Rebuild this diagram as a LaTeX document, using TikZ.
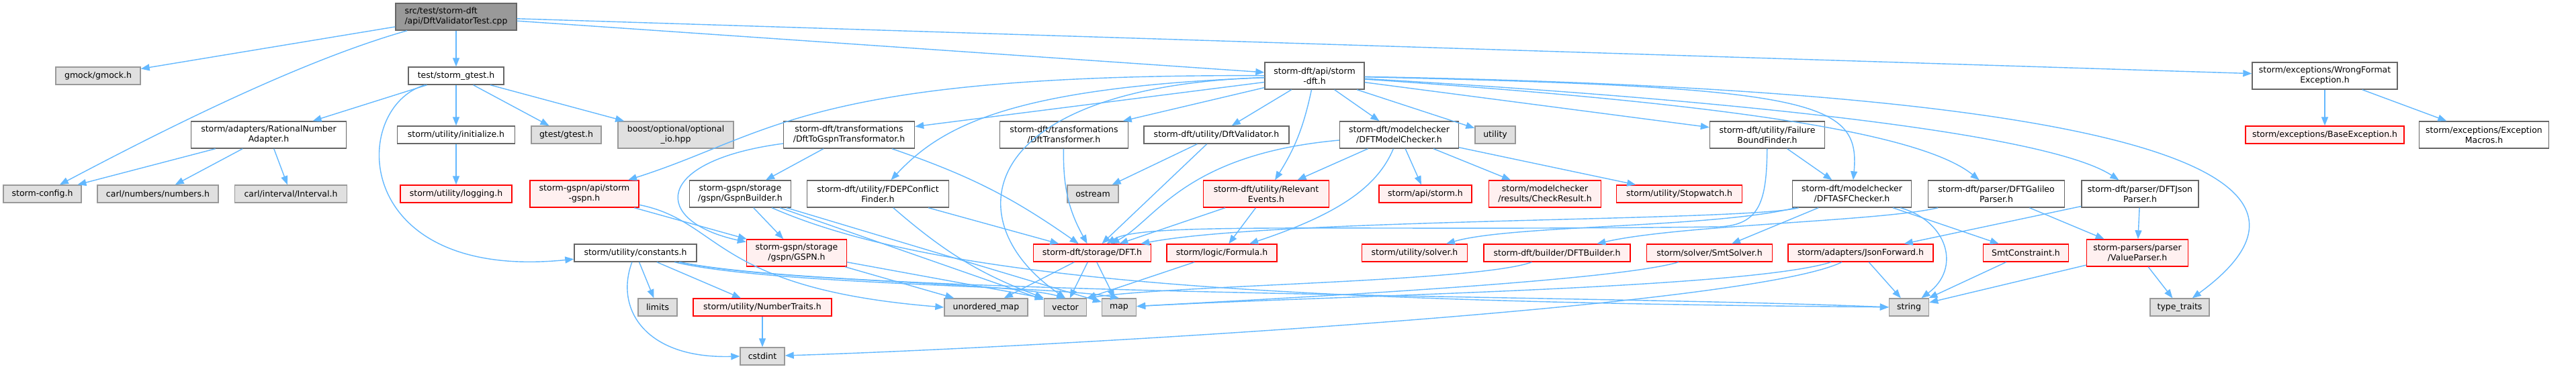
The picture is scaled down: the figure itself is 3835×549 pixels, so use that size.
\documentclass[tikz,border=0pt]{standalone}
\usepackage{fontspec}
\setmainfont{DejaVu Sans}
\usepackage{xcolor}
\usetikzlibrary{arrows.meta}

\definecolor{edgeblue}{HTML}{63B8FF}
\definecolor{grey40}{HTML}{666666}
\definecolor{grey60}{HTML}{999999}
\definecolor{sysfill}{HTML}{E0E0E0}
\definecolor{trfill}{HTML}{FFF0F0}
\definecolor{trline}{HTML}{FF0000}

\begin{document}
\begin{tikzpicture}[
  x=1pt, y=-1pt,
  cbox/.style = {draw=grey40, fill=grey60, line width=1.4pt,
                 minimum height=26pt, inner xsep=2pt, inner ysep=2pt,
                 font=\fontsize{12.5}{15}\selectfont, align=left},
  wbox/.style = {draw=grey40, fill=white, line width=1.4pt,
                 minimum height=26pt, inner xsep=2pt, inner ysep=2pt,
                 font=\fontsize{12.5}{15}\selectfont, align=center},
  gbox/.style = {draw=grey60, fill=sysfill, line width=1.4pt,
                 minimum height=26pt, inner xsep=2pt, inner ysep=2pt,
                 font=\fontsize{12.5}{15}\selectfont, align=center},
  rbox/.style = {draw=trline, fill=trfill, line width=1.4pt,
                 minimum height=26pt, inner xsep=2pt, inner ysep=2pt,
                 font=\fontsize{12.5}{15}\selectfont, align=center},
  dbl/.style  = {minimum height=40pt},
  arr/.style  = {-{Triangle[length=13pt, width=10pt]}, color=edgeblue,
                 line width=1.4pt},
]
\useasboundingbox (0,0) rectangle (3835,549);

% Row 1 - the test file
\node[cbox, dbl, minimum width=180pt] (test) at (679,25) {src/test/storm-dft\\/api/DftValidatorTest.cpp};

% Row 2
\node[gbox, minimum width=126pt] (gmock)  at (146,113) {gmock/gmock.h};
\node[wbox, minimum width=142pt] (gtesth) at (679,113) {test/storm\_gtest.h};
\node[wbox, dbl, minimum width=148pt] (stormdft) at (1957,113) {storm-dft/api/storm\\-dft.h};
\node[wbox, dbl, minimum width=216pt] (wrongfmt) at (3461,113) {storm/exceptions/WrongFormat\\Exception.h};

% Row 3
\node[wbox, dbl, minimum width=231pt] (ratadapt) at (400,201) {storm/adapters/RationalNumber\\Adapter.h};
\node[wbox, minimum width=175pt] (init)     at (679,201)  {storm/utility/initialize.h};
\node[gbox, minimum width=104pt] (gtestlib) at (843,201)  {gtest/gtest.h};
\node[gbox, dbl, minimum width=172pt] (boostopt) at (1006,201) {boost/optional/optional\\\_io.hpp};
\node[wbox, dbl, minimum width=195pt] (dft2gspn) at (1264,201) {storm-dft/transformations\\/DftToGspnTransformator.h};
\node[wbox, dbl, minimum width=191pt] (dfttrans) at (1584,201) {storm-dft/transformations\\/DftTransformer.h};
\node[wbox, minimum width=216pt] (dftvalid) at (1811,201) {storm-dft/utility/DftValidator.h};
\node[wbox, dbl, minimum width=177pt] (dftmc)    at (2083,201) {storm-dft/modelchecker\\/DFTModelChecker.h};
\node[gbox, minimum width=60pt]  (utility)  at (2226,201) {utility};
\node[wbox, dbl, minimum width=171pt] (failbound) at (2631,201) {storm-dft/utility/Failure\\BoundFinder.h};
\node[rbox, minimum width=236pt] (baseexc)  at (3461,201) {storm/exceptions/BaseException.h};
\node[wbox, dbl, minimum width=193pt] (excmacros) at (3698,201) {storm/exceptions/Exception\\Macros.h};

% Row 4
\node[gbox, minimum width=116pt] (config)   at (63,289)   {storm-config.h};
\node[gbox, minimum width=180pt] (carlnum)  at (235,289)  {carl/numbers/numbers.h};
\node[gbox, minimum width=167pt] (carlint)  at (433,289)  {carl/interval/Interval.h};
\node[rbox, minimum width=166pt] (logging)  at (679,289)  {storm/utility/logging.h};
\node[rbox, dbl, minimum width=162pt] (gspnapi)  at (870,289)  {storm-gspn/api/storm\\-gspn.h};
\node[wbox, dbl, minimum width=151pt] (gspnbld)  at (1102,289) {storm-gspn/storage\\/gspn/GspnBuilder.h};
\node[wbox, dbl, minimum width=211pt] (fdep)     at (1307,289) {storm-dft/utility/FDEPConflict\\Finder.h};
\node[gbox, minimum width=76pt]  (ostream)  at (1627,289) {ostream};
\node[rbox, dbl, minimum width=187pt] (relevant) at (1885,289) {storm-dft/utility/Relevant\\Events.h};
\node[rbox, minimum width=138pt] (stormapi) at (2122,289) {storm/api/storm.h};
\node[rbox, dbl, minimum width=167pt] (checkres) at (2300,289) {storm/modelchecker\\/results/CheckResult.h};
\node[rbox, minimum width=187pt] (stopwatch) at (2500,289) {storm/utility/Stopwatch.h};
\node[wbox, dbl, minimum width=177pt] (asfcheck) at (2757,289) {storm-dft/modelchecker\\/DFTASFChecker.h};
\node[wbox, dbl, minimum width=203pt] (galileo)  at (2972,289) {storm-dft/parser/DFTGalileo\\Parser.h};
\node[wbox, dbl, minimum width=174pt] (jsonparse) at (3186,289) {storm-dft/parser/DFTJson\\Parser.h};

% Row 5
\node[wbox, minimum width=182pt] (constants) at (946,377)  {storm/utility/constants.h};
\node[rbox, dbl, minimum width=149pt] (gspn)     at (1186,377) {storm-gspn/storage\\/gspn/GSPN.h};
\node[rbox, minimum width=175pt] (dft)       at (1626,377) {storm-dft/storage/DFT.h};
\node[rbox, minimum width=164pt] (formula)   at (1819,377) {storm/logic/Formula.h};
\node[rbox, minimum width=157pt] (solver)    at (2106,377) {storm/utility/solver.h};
\node[rbox, minimum width=218pt] (dftbld)    at (2318,377) {storm-dft/builder/DFTBuilder.h};
\node[rbox, minimum width=187pt] (smtsolver) at (2545,377) {storm/solver/SmtSolver.h};
\node[rbox, minimum width=216pt] (jsonfwd)   at (2770,377) {storm/adapters/JsonForward.h};
\node[rbox, minimum width=127pt] (smtconstr) at (3016,377) {SmtConstraint.h};
\node[rbox, dbl, minimum width=151pt] (valparse) at (3182,377) {storm-parsers/parser\\/ValueParser.h};

% Row 6
\node[gbox, minimum width=58pt]  (limits)    at (979,458)  {limits};
\node[rbox, minimum width=206pt] (numtraits) at (1135,458) {storm/utility/NumberTraits.h};
\node[gbox, minimum width=124pt] (umap)      at (1468,458) {unordered\_map};
\node[gbox, minimum width=63pt]  (vector)    at (1586,458) {vector};
\node[gbox, minimum width=51pt]  (map)       at (1666,458) {map};
\node[gbox, minimum width=59pt]  (string)    at (2842,458) {string};
\node[gbox, minimum width=88pt]  (typetr)    at (3245,458) {type\_traits};

% Row 7
\node[gbox, minimum width=66pt]  (cstdint)   at (1135,531) {cstdint};

% Arrows
\draw[arr] (test) -- (gmock);
\draw[arr] (test) .. controls (450,90) and (250,190) .. (config);
\draw[arr] (test) -- (gtesth);
\draw[arr] (test) -- (stormdft);
\draw[arr] (test) -- (wrongfmt);

\draw[arr] (gtesth) -- (ratadapt);
\draw[arr] (gtesth) .. controls (520,160) and (520,420) .. (constants);
\draw[arr] (gtesth) -- (init);
\draw[arr] (gtesth) -- (gtestlib);
\draw[arr] (gtesth) -- (boostopt);
\draw[arr] (ratadapt) -- (config);
\draw[arr] (ratadapt) -- (carlnum);
\draw[arr] (ratadapt) -- (carlint);
\draw[arr] (init) -- (logging);

\draw[arr] (stormdft) -- (dft2gspn);
\draw[arr] (stormdft) -- (dfttrans);
\draw[arr] (stormdft) -- (dftvalid);
\draw[arr] (stormdft) .. controls (1500,130) and (1400,190) .. (fdep);
\draw[arr] (stormdft) .. controls (1200,110) and (1150,200) .. (gspnapi);
\draw[arr] (stormdft) .. controls (1450,130) and (1420,330) .. (vector.north);
\draw[arr] (stormdft) to[bend left=10] (relevant);
\draw[arr] (stormdft) -- (dftmc);
\draw[arr] (stormdft) -- (utility);
\draw[arr] (stormdft) -- (failbound);
\draw[arr] (stormdft) .. controls (2700,130) and (2770,150) .. (asfcheck);
\draw[arr] (stormdft) .. controls (2500,150) and (2850,190) .. (galileo);
\draw[arr] (stormdft) .. controls (2600,150) and (3050,200) .. (jsonparse);
\draw[arr] (stormdft) .. controls (3500,140) and (3420,330) .. (typetr);
\draw[arr] (wrongfmt) -- (baseexc);
\draw[arr] (wrongfmt) -- (excmacros);

\draw[arr] (dft2gspn) .. controls (970,240) and (970,330) .. (gspn);
\draw[arr] (dft2gspn) -- (gspnbld);
\draw[arr] (dft2gspn) to[bend left=8] (dft);
\draw[arr] (dfttrans) to[bend right=15] (dft);
\draw[arr] (dftvalid) -- (ostream);
\draw[arr] (dftvalid) -- (dft);
\draw[arr] (fdep) -- (dft);
\draw[arr] (fdep) to[bend right=10] (vector.north west);

\draw[arr] (gspnapi) -- (gspn);
\draw[arr] (gspnapi) .. controls (1075,330) and (1060,430) .. (umap.west);
\draw[arr] (gspnbld) -- (gspn);
\draw[arr] (gspnbld) -- (vector);
\draw[arr] (gspnbld) -- (map);
\draw[arr] (gspnbld) .. controls (1400,420) and (1900,450) .. (string);
\draw[arr] (gspn) -- (umap);
\draw[arr] (gspn) -- (vector.north west);

\draw[arr] (constants) -- (limits);
\draw[arr] (constants) -- (numtraits);
\draw[arr] (constants) .. controls (915,460) and (960,535) .. (cstdint.west);
\draw[arr] (constants) .. controls (1150,420) and (1500,420) .. (vector.north);
\draw[arr] (constants) .. controls (1150,425) and (1560,425) .. (map.north);
\draw[arr] (constants) .. controls (1250,440) and (2400,440) .. (string.west);
\draw[arr] (numtraits) -- (cstdint);

\draw[arr] (dftmc) -- (relevant);
\draw[arr] (dftmc) .. controls (2050,280) and (1990,320) .. (formula);
\draw[arr] (dftmc) .. controls (1760,230) and (1720,330) .. (dft);
\draw[arr] (dftmc) -- (stormapi);
\draw[arr] (dftmc) -- (checkres);
\draw[arr] (dftmc) -- (stopwatch);
\draw[arr] (relevant) -- (dft);
\draw[arr] (relevant) -- (formula);
\draw[arr] (failbound) -- (asfcheck);
\draw[arr] (failbound) .. controls (2630,300) and (2620,335) .. (2560,338)
           .. controls (2000,345) and (1700,330) .. (dft);

\draw[arr] (asfcheck) .. controls (2600,330) and (1900,325) .. (dft);
\draw[arr] (asfcheck) .. controls (2550,340) and (2250,335) .. (solver);
\draw[arr] (asfcheck) -- (smtsolver);
\draw[arr] (asfcheck) -- (smtconstr);
\draw[arr] (asfcheck) .. controls (2900,330) and (2920,400) .. (string);
\draw[arr] (galileo) .. controls (2800,330) and (2500,335) .. (dftbld);
\draw[arr] (galileo) -- (valparse);
\draw[arr] (jsonparse) -- (jsonfwd);
\draw[arr] (jsonparse) -- (valparse);

\draw[arr] (dft) -- (umap);
\draw[arr] (dft) -- (vector);
\draw[arr] (dft) -- (map);
\draw[arr] (formula) -- (vector.north east);
\draw[arr] (dftbld) .. controls (2200,420) and (1750,425) .. (vector.north east);
\draw[arr] (smtsolver) .. controls (2400,420) and (1900,445) .. (map);
\draw[arr] (jsonfwd) .. controls (2600,430) and (2000,440) .. (map);
\draw[arr] (jsonfwd) .. controls (2600,460) and (1500,520) .. (cstdint);
\draw[arr] (jsonfwd) -- (string);
\draw[arr] (smtconstr) -- (string);
\draw[arr] (valparse) -- (string);
\draw[arr] (valparse) -- (typetr);
\end{tikzpicture}
\end{document}
